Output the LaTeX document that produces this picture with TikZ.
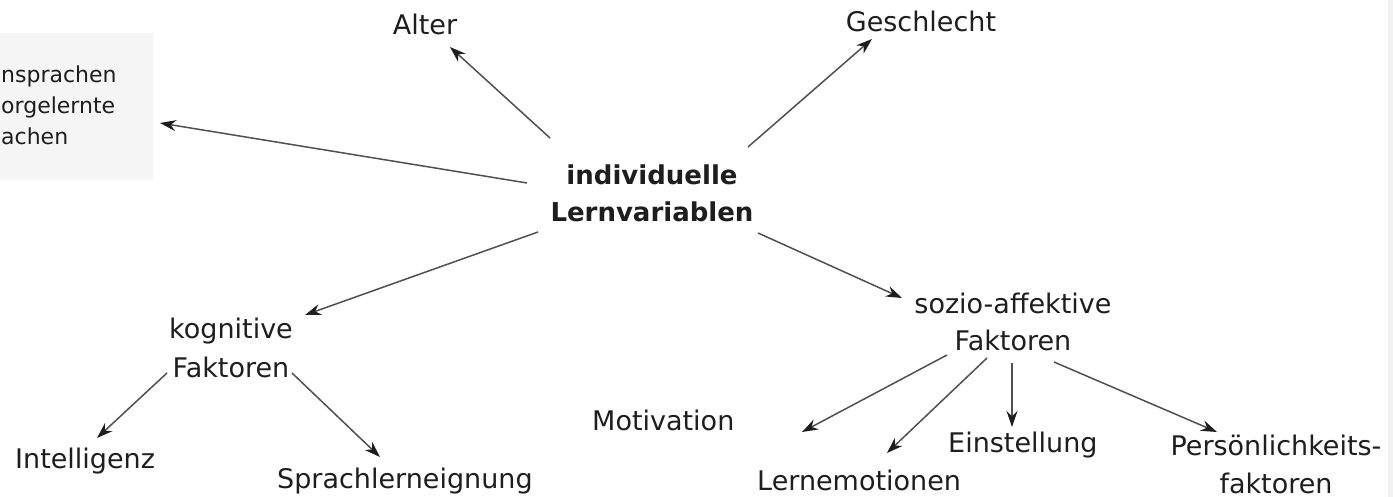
\documentclass[tikz,border=0pt]{standalone}
\usepackage{fontspec}
\setmainfont{DejaVu Sans}
\usetikzlibrary{arrows.meta}
\definecolor{txt}{HTML}{1E1E1E}
\definecolor{lnc}{HTML}{505050}
\definecolor{boxgray}{HTML}{F5F5F5}
\begin{document}
\begin{tikzpicture}[x=1pt,y=-1pt,
  lbl/.style={inner sep=0pt, text=txt, font=\fontsize{27}{37}\selectfont},
  arr/.style={draw=lnc, line width=1.5pt, -{Stealth[length=16pt,width=11pt,color=txt]}}]
\useasboundingbox (0,0) rectangle (1393,497);
\fill[white] (0,0) rectangle (1393,497);
\fill[black!5] (1388,0) rectangle (1393,497);
% left grey box
\node[fill=boxgray, inner sep=0pt, minimum width=153pt, minimum height=147pt, anchor=north west] (box) at (0,33) {};
\node[lbl, font=\fontsize{22}{31}\selectfont, anchor=base west, align=left] (boxtxt) at (1,145) {nsprachen\\orgelernte\\achen};
% labels
\node[lbl, anchor=base] (alter) at (425,35) {Alter};
\node[lbl, anchor=base] (geschl) at (921,32) {Geschlecht};
\node[lbl, font=\bfseries\fontsize{26}{37}\selectfont, align=center, anchor=base] (main) at (652,222) {individuelle\\Lernvariablen};
\node[lbl, font=\fontsize{27}{39}\selectfont, align=center, anchor=base] (kog) at (231,377) {kognitive\\Faktoren};
\node[lbl, align=center, anchor=base] (sozio) at (1013,350) {sozio-affektive\\Faktoren};
\node[lbl, anchor=base west] (intel) at (15,468) {Intelligenz};
\node[lbl, anchor=base west] (sprach) at (277,488) {Sprachlerneignung};
\node[lbl, anchor=base west] (motiv) at (592,430) {Motivation};
\node[lbl, anchor=base west] (emo) at (757,490) {Lernemotionen};
\node[lbl, anchor=base west] (einst) at (948,452) {Einstellung};
\node[lbl, font=\fontsize{27}{38}\selectfont, align=center, anchor=base] (pers) at (1276,493) {Persönlichkeits-\\faktoren};
% connector end points
\coordinate (m-alter) at (550,138);   \coordinate (alter-in) at (450,47);
\coordinate (m-geschl) at (748,147);  \coordinate (geschl-in) at (872,39);
\coordinate (m-box) at (527,183);     \coordinate (box-in) at (160,123);
\coordinate (m-kog) at (538,232);     \coordinate (kog-in) at (305,315);
\coordinate (m-sozio) at (758,233);   \coordinate (sozio-in) at (902,298);
\coordinate (kog-intel) at (167,373); \coordinate (intel-in) at (97,438);
\coordinate (kog-sprach) at (292,373);\coordinate (sprach-in) at (380,457);
\coordinate (s-motiv) at (947,355);   \coordinate (motiv-in) at (802,432);
\coordinate (s-emo) at (987,358);     \coordinate (emo-in) at (887,453);
\coordinate (s-einst) at (1012,363);  \coordinate (einst-in) at (1012,427);
\coordinate (s-pers) at (1054,362);   \coordinate (pers-in) at (1217,432);
% connectors
\draw[arr] (m-alter) -- (alter-in);
\draw[arr] (m-geschl) -- (geschl-in);
\draw[arr] (m-box) -- (box-in);
\draw[arr] (m-kog) -- (kog-in);
\draw[arr] (m-sozio) -- (sozio-in);
\draw[arr] (kog-intel) -- (intel-in);
\draw[arr] (kog-sprach) -- (sprach-in);
\draw[arr] (s-motiv) -- (motiv-in);
\draw[arr] (s-emo) -- (emo-in);
\draw[arr] (s-einst) -- (einst-in);
\draw[arr] (s-pers) -- (pers-in);
\end{tikzpicture}
\end{document}
